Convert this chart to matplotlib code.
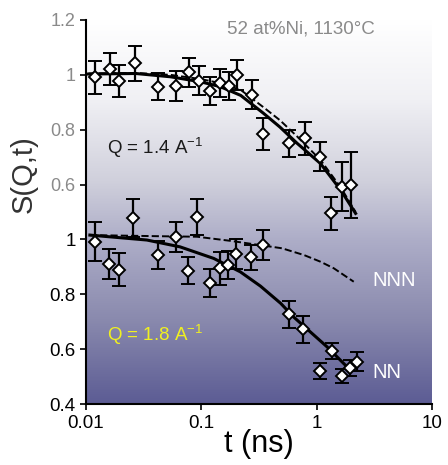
import numpy as np
import matplotlib.pyplot as plt
from matplotlib.colors import LinearSegmentedColormap

plt.rcParams['font.family'] = ['Liberation Sans', 'DejaVu Sans']
plt.rcParams['mathtext.default'] = 'regular'

# Q = 1.4 A^-1 (drawn on the upper half, shifted by OFFSET)
t_14 = [0.012, 0.0162, 0.0195, 0.0267, 0.0417, 0.0607, 0.0776, 0.0948, 0.1197,
        0.146, 0.173, 0.204, 0.276, 0.344, 0.574, 0.787, 1.068, 1.34, 1.67, 2.0]
s_14 = [0.991, 1.020, 0.979, 1.042, 0.957, 0.959, 1.009, 0.979, 0.942,
        0.971, 0.959, 0.999, 0.927, 0.784, 0.750, 0.769, 0.702, 0.495, 0.592, 0.598]
err_14 = [0.06, 0.058, 0.058, 0.065, 0.05, 0.055, 0.053, 0.053, 0.052,
          0.052, 0.05, 0.054, 0.053, 0.058, 0.048, 0.06, 0.052, 0.06, 0.09, 0.12]
fit_t_14 = [0.0105, 0.027, 0.054, 0.098, 0.146, 0.22, 0.346, 0.48, 0.68, 1.08, 1.62, 2.18]
fit_nn_14 = [1.003, 1.005, 0.993, 0.975, 0.957, 0.925, 0.86, 0.81, 0.75, 0.677, 0.58, 0.495]
fit_nnn_14 = [1.005, 1.007, 1.0, 0.985, 0.97, 0.945, 0.882, 0.835, 0.775, 0.69, 0.59, 0.50]

# Q = 1.8 A^-1 (lower half)
t_18 = [0.012, 0.0159, 0.0195, 0.0258, 0.0417, 0.0607, 0.076, 0.0923, 0.118,
        0.144, 0.171, 0.201, 0.270, 0.344, 0.574, 0.766, 1.068, 1.37, 1.65, 1.95, 2.26]
s_18 = [0.992, 0.910, 0.889, 1.078, 0.943, 1.008, 0.886, 1.082, 0.842,
        0.895, 0.907, 0.946, 0.935, 0.980, 0.727, 0.672, 0.521, 0.594, 0.502, 0.532, 0.554]
err_18 = [0.07, 0.055, 0.06, 0.07, 0.05, 0.055, 0.05, 0.065, 0.05,
          0.06, 0.05, 0.055, 0.045, 0.055, 0.05, 0.05, 0.03, 0.03, 0.025, 0.03, 0.035]
fit_t_18 = [0.0108, 0.0337, 0.0655, 0.128, 0.218, 0.326, 0.489, 0.63, 1.23, 1.96]
fit_nn_18 = [1.016, 0.998, 0.973, 0.931, 0.882, 0.83, 0.767, 0.718, 0.609, 0.524]
fit_t_18_nnn = [0.0108, 0.0412, 0.092, 0.179, 0.50, 0.78, 1.08, 1.41, 2.1]
fit_nnn_18 = [1.016, 1.012, 1.010, 0.995, 0.968, 0.943, 0.919, 0.895, 0.846]

OFFSET = 0.6

fig = plt.figure(figsize=(4.48, 4.65), dpi=100)
ax = fig.add_axes([0.192, 0.131, 0.772, 0.826])

# white-to-slate gradient behind the data
bg = LinearSegmentedColormap.from_list('bg', [
    (0.0, '#5c5c94'), (0.22, '#8a8aae'), (0.43, '#aeaec8'),
    (0.58, '#d0d0dc'), (0.79, '#f0f0f4'), (1.0, '#ffffff')])
grad = np.linspace(0, 1, 256).reshape(-1, 1)
ax.imshow(grad, cmap=bg, origin='lower', aspect='auto',
          extent=[0, 1, 0, 1], transform=ax.transAxes, zorder=0)

s_14_up = [v + OFFSET for v in s_14]
ax.errorbar(t_14, s_14_up, yerr=err_14, fmt='D', ms=6, mfc='white', mec='black',
            mew=1.4, ecolor='black', elinewidth=1.6, capsize=5, capthick=1.6, zorder=4)
ax.errorbar(t_18, s_18, yerr=err_18, fmt='D', ms=6, mfc='white', mec='black',
            mew=1.4, ecolor='black', elinewidth=1.6, capsize=5, capthick=1.6, zorder=4)

ax.plot(fit_t_14, [v + OFFSET for v in fit_nnn_14], '--', color='black', lw=1.4, zorder=3)
ax.plot(fit_t_14, [v + OFFSET for v in fit_nn_14], '-', color='black', lw=2.2, zorder=3)
ax.plot(fit_t_18_nnn, fit_nnn_18, '--', color='black', lw=1.4, zorder=3)
ax.plot(fit_t_18, fit_nn_18, '-', color='black', lw=2.2, zorder=3)

ax.set_xscale('log')
ax.set_xlim(0.01, 10)
ax.set_ylim(0.4, 1.8)
ax.set_xticks([0.01, 0.1, 1, 10])
ax.set_xticklabels(['0.01', '0.1', '1', '10'], fontsize=13.5)
ax.minorticks_off()

yt = [0.4, 0.6, 0.8, 1.0, 1.2, 1.4, 1.6, 1.8]
ax.set_yticks(yt)
ax.set_yticklabels(['0.4', '0.6', '0.8', '1', '0.6', '0.8', '1', '1.2'], fontsize=13.5)
for lab, v in zip(ax.get_yticklabels(), yt):
    if v > 1.1:
        lab.set_color('#8a8a8a')
        lab.set_fontsize(13)

ax.tick_params(direction='out', length=4, width=1.2)
for side in ['top', 'right']:
    ax.spines[side].set_visible(False)
for side in ['left', 'bottom']:
    ax.spines[side].set_linewidth(1.5)

ax.set_xlabel('t (ns)', fontsize=22, labelpad=-2)
ax.set_ylabel('S(Q,t)', fontsize=21, color='#333333')
ax.yaxis.set_label_coords(-0.14, 0.6)

ax.text(0.621, 0.977, '52 at%Ni, 1130°C', transform=ax.transAxes, fontsize=13.5,
        color='#8a8a8a', ha='center', va='center')
ax.text(0.061, 0.667, 'Q = 1.4 A$^{-1}$', transform=ax.transAxes, fontsize=13.5,
        color='#1a1a1a', ha='left', va='center')
ax.text(0.061, 0.180, 'Q = 1.8 A$^{-1}$', transform=ax.transAxes, fontsize=13.5,
        color='#f0f020', ha='left', va='center')
ax.text(0.827, 0.323, 'NNN', transform=ax.transAxes, fontsize=14.5,
        color='white', ha='left', va='center')
ax.text(0.829, 0.081, 'NN', transform=ax.transAxes, fontsize=14.5,
        color='white', ha='left', va='center')

fig.savefig('out.png', dpi=100)
